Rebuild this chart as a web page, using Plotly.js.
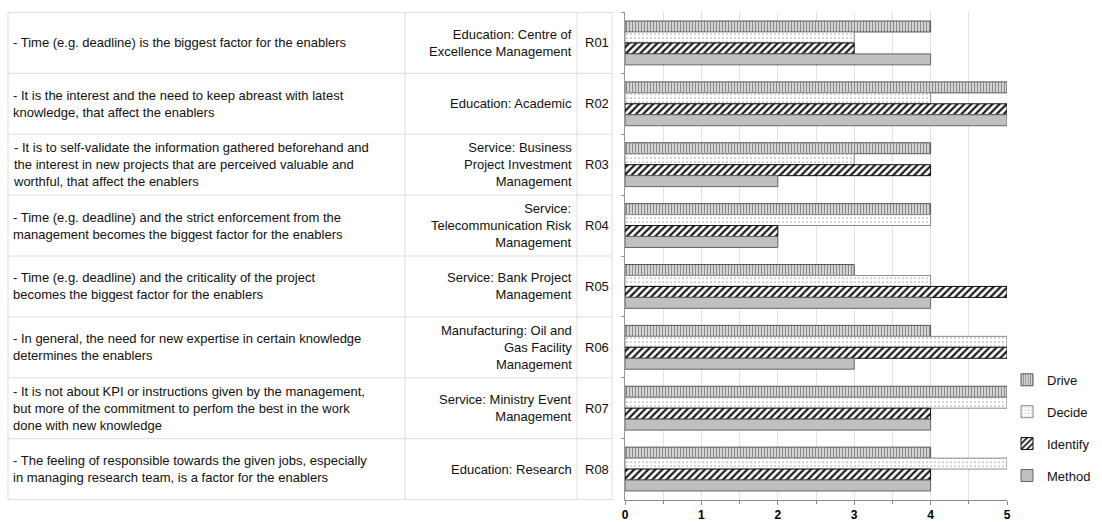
<!DOCTYPE html>
<html>
<head>
<meta charset="utf-8">
<script src="https://cdn.plot.ly/plotly-3.0.1.min.js"></script>
<style>html,body{margin:0;padding:0;background:#fff;}#chart{width:1102px;height:522px;}</style>
</head>
<body>
<div id="chart"></div>
<script>
var ids = ["R01","R02","R03","R04","R05","R06","R07","R08"];
var descriptions = [
  "- Time (e.g. deadline) is the biggest factor for the enablers",
  "- It is the interest and the need to keep abreast with latest<br>knowledge, that affect the enablers",
  "- It is to self-validate the information gathered beforehand and<br>the interest in new projects that are perceived valuable and<br>worthful, that affect the enablers",
  "- Time (e.g. deadline) and the strict enforcement from the<br>management becomes the biggest factor for the enablers",
  "- Time (e.g. deadline) and the criticality of the project<br>becomes the biggest factor for the enablers",
  "- In general, the need for new expertise in certain knowledge<br>determines the enablers",
  "- It is not about KPI or instructions given by the management,<br>but more of the commitment to perfom the best in the work<br>done with new knowledge",
  "- The feeling of responsible towards the given jobs, especially<br>in managing research team, is a factor for the enablers"
];
var sectors = [
  "Education: Centre of<br>Excellence Management",
  "Education: Academic",
  "Service: Business<br>Project Investment<br>Management",
  "Service:<br>Telecommunication Risk<br>Management",
  "Service: Bank Project<br>Management",
  "Manufacturing: Oil and<br>Gas Facility<br>Management",
  "Service: Ministry Event<br>Management",
  "Education: Research"
];
var seriesNames = ["Drive","Decide","Identify","Method"];
var drive    = [4,5,4,4,3,4,5,4];
var decide   = [3,4,3,4,4,5,5,5];
var identify = [3,5,4,2,5,5,4,4];
var method   = [4,5,2,2,4,3,4,4];
var xTicks = [0,1,2,3,4,5];

var W = 1102;
var FONT = "Liberation Sans, Arial, sans-serif";
var styles = [
  {color:"#cfcfcf", line:"#555", pattern:{shape:"|", fgcolor:"#8a8a8a", bgcolor:"#d4d4d4", size:3, solidity:0.35}},
  {color:"#ffffff", line:"#8a8a8a", pattern:{shape:".", fgcolor:"#b0b0b0", bgcolor:"#ffffff", size:4, solidity:0.15}},
  {color:"#ffffff", line:"#111", pattern:{shape:"/", fgcolor:"#1a1a1a", bgcolor:"#ffffff", size:5, solidity:0.45}},
  {color:"#c0c0c0", line:"#666", pattern:null}
];
var values = [drive, decide, identify, method];
var traces = values.map(function(v, k){
  var m = {color: styles[k].color, line:{color: styles[k].line, width:1}};
  if (styles[k].pattern) m.pattern = styles[k].pattern;
  return {type:"bar", orientation:"h", name: seriesNames[k], x: v, y: ids,
          marker: m, legendgroup: seriesNames[k], hoverinfo:"x+y+name"};
});

var shapes = [];
var gridC = "#dedede";
var colX = [8, 405, 577, 612];
for (var i = 0; i <= ids.length; i++) {
  shapes.push({type:"line", xref:"paper", yref:"y", x0: colX[0]/W, x1: colX[3]/W,
               y0: i-0.5, y1: i-0.5, line:{color:gridC, width:1}});
}
colX.forEach(function(cx){
  shapes.push({type:"line", xref:"paper", yref:"y", x0: cx/W, x1: cx/W,
               y0: -0.5, y1: ids.length-0.5, line:{color:gridC, width:1}});
});

var annotations = [];
ids.forEach(function(id, i){
  annotations.push({xref:"paper", yref:"y", x: 11/W, y: id, xanchor:"left", yanchor:"middle",
    align:"left", text: descriptions[i], showarrow:false, font:{family:FONT, size:13, color:"#111"}});
  annotations.push({xref:"paper", yref:"y", x: 574/W, y: id, xanchor:"right", yanchor:"middle",
    align:"right", text: sectors[i], showarrow:false, font:{family:FONT, size:13, color:"#111"}});
  annotations.push({xref:"paper", yref:"y", x: 583/W, y: id, xanchor:"left", yanchor:"middle",
    align:"left", text: id, showarrow:false, font:{family:FONT, size:13, color:"#111"}});
});

var layout = {
  width: 1102, height: 522,
  margin: {l:0, r:0, t:12, b:22, pad:0},
  paper_bgcolor:"#fff", plot_bgcolor:"#fff",
  font: {family: FONT, size: 12, color:"#111"},
  barmode: "group", bargap: 0.28, bargroupgap: 0,
  showlegend: true,
  legend: {x: 1007/W, y: 0.277, xanchor:"left", yanchor:"top", traceorder:"grouped",
           tracegroupgap: 12, font:{family:FONT, size:13, color:"#111"}, itemwidth:30,
           bgcolor:"rgba(0,0,0,0)"},
  xaxis: {domain:[625/W, 1007/W], range:[0,5], tickvals: xTicks, ticktext: xTicks.map(String),
          showgrid:true, gridcolor:"#e2e2e2", zeroline:false,
          minor:{dtick:0.5, showgrid:true, gridcolor:"#e2e2e2", ticks:"outside", ticklen:3, tickcolor:"#888"},
          ticks:"outside", ticklen:4, tickcolor:"#888",
          showline:true, linecolor:"#888", linewidth:1,
          tickfont:{family:FONT, size:12, color:"#000", weight:"bold"}, fixedrange:true},
  yaxis: {type:"category", autorange:"reversed", showticklabels:false,
          tickson:"boundaries", ticks:"outside", ticklen:3, tickcolor:"#999",
          showline:true, linecolor:"#999", linewidth:1, showgrid:false, zeroline:false, fixedrange:true},
  shapes: shapes,
  annotations: annotations
};

Plotly.newPlot("chart", traces, layout, {displayModeBar:false, staticPlot:true});
</script>
</body>
</html>
